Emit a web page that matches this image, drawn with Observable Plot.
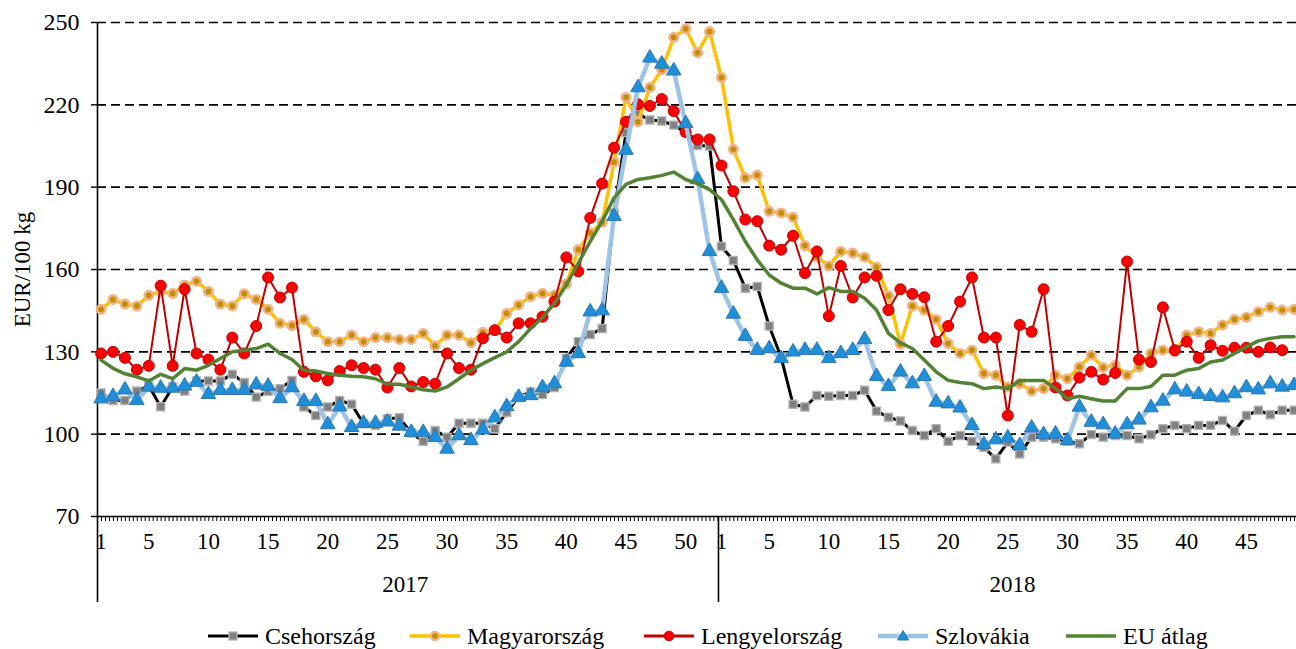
<!DOCTYPE html>
<html><head><meta charset="utf-8">
<script src="https://cdn.jsdelivr.net/npm/d3@7"></script>
<script src="https://cdn.jsdelivr.net/npm/@observablehq/plot@0.6"></script>
<style>
body{margin:0;background:#fff;font-family:"Liberation Serif","Times New Roman",serif;}
#wrap{position:relative;width:1296px;height:649px;overflow:hidden;}
#legend{position:absolute;left:0;top:624px;width:1296px;height:24px;}
.item{position:absolute;top:0;height:24px;display:flex;align-items:center;font-size:24px;color:#000;white-space:nowrap;}
.item svg{margin-right:7px;}
</style></head><body><div id="wrap"><div id="chart"></div><div id="legend"></div></div>
<script>
const years = ["2017", "2018"];
const weeks2017 = [1,2,3,4,5,6,7,8,9,10,11,12,13,14,15,16,17,18,19,20,21,22,23,24,25,26,27,28,29,30,31,32,33,34,35,36,37,38,39,40,41,42,43,44,45,46,47,48,49,50,51,52];
const weeks2018 = [1,2,3,4,5,6,7,8,9,10,11,12,13,14,15,16,17,18,19,20,21,22,23,24,25,26,27,28,29,30,31,32,33,34,35,36,37,38,39,40,41,42,43,44,45,46,47,48,49];
const labelWeeks2017 = [1,5,10,15,20,25,30,35,40,45,50];
const labelWeeks2018 = [1,5,10,15,20,25,30,35,40,45];
const yTicks = [70,100,130,160,190,220,250];

const cseh2017 = [115,112.3,112.3,115.7,117.6,110,117.2,115.7,119.4,119.4,119.4,121.8,118.8,113.5,115.6,116.6,119.6,109.9,106.8,109.9,112.3,110.9,103.8,103.2,105.6,106,100.4,97.4,101.3,98.9,104,104,104,102,108,113.5,115.4,114.4,117,127.6,133.7,136.3,138.5,180.6,209.9,216.6,214.5,214.1,212.6,209.9,205.2,205];
const cseh2018 = [168.4,163.3,153.2,153.8,139.4,128,110.9,109.9,114.1,113.8,114.1,114.1,116,108.4,106.2,104.8,101.3,99.5,102,97.4,99.5,97.4,95.2,91,97.1,92.8,98.9,98.9,98.3,97.4,96.5,99.9,98.9,99.5,99.5,98.3,99.8,102,103.2,102,103.2,103.2,105,101.1,106.8,108.7,107.1,108.7,108.7];
const magyar2017 = [145.5,149.1,147.4,146.7,150.6,152,151.3,154.3,155.7,152,147.4,146.7,151.2,149.1,145.5,140.4,139.6,141.8,137.3,133.7,133.7,136.1,133.7,135.2,135.2,134.5,134.5,136.7,132.2,136.1,136.1,133.3,137.1,137.9,144,147.1,150.1,151.3,150.7,154.8,167.2,173.3,177.2,199.1,222.7,213.8,226.3,232.8,244.6,247.7,239,246.7];
const magyar2018 = [230,203.8,193.4,194.4,181.2,180.6,179,168.7,164.5,161.3,166.6,166,164.5,160.9,150.4,132.8,146.7,145.2,141.8,133,129.4,130.6,122.1,121.5,117.2,118.4,115.7,116.6,121.5,120.2,124.5,128.8,124.3,125.1,121.5,124.5,129.4,130.6,130,136.1,137.3,136.7,139.8,141.8,142.6,144.6,146.2,145.2,145.5];
const lengyel2017 = [129.4,130,127.8,123.5,124.9,154.1,124.9,152.8,129.4,127.2,123.5,135.2,129.4,139.4,157.1,149.8,153.4,122.7,121.1,119.6,123,125.1,124.1,123.5,117,124.1,117.4,119,118.4,129.4,124.1,123.5,134.9,137.9,135.2,140.4,140.4,142.8,148.3,164.4,159.3,178.8,191.3,204.4,213.8,220.2,219.6,222.1,217.7,210.1,207.4,207.4];
const lengyel2018 = [197.9,188.5,178.2,177.6,168.7,167.2,172.3,158.7,166.6,143,161.3,149.8,157.1,157.7,145.2,152.8,151.1,149.9,133.7,139.4,148.3,157.1,135.2,135.2,106.8,139.8,137.3,152.8,117,114.1,120.6,122.7,119.9,122.3,162.9,127.2,126.3,146.2,130.6,133.7,127.8,132.4,130.4,131.5,131.5,130,131.6,130.6];
const szlovakia2017 = [112.9,113.8,116.2,112.3,117.2,116.8,116.8,117.6,119,114.5,116,116,116,118,117.5,113,117,112,112,103.5,110,102.5,104,104,104.5,103,100.7,100.7,98.9,94.6,99.5,97.7,101.6,106,110.1,113.5,114.1,117,118.4,126.3,129.4,144.6,145,179.4,203.5,226.3,237.1,234.9,232.4,213.2,192.8,166.6];
const szlovakia2018 = [153.2,143.8,135.7,130.6,131.2,127.6,130,130.6,130.6,127.6,129.4,130.6,134.5,121.1,117.4,122.7,118.4,121.1,111.7,111.1,109.6,103.2,96.2,98,98.7,95.9,102.3,99.9,100.1,97.7,109.9,104.4,103.5,100.1,103.5,105.2,109.7,112.1,116.2,115.4,114.5,113.8,113.3,114.8,117,116.2,118.4,117.2,117.8];
const eu2017 = [127,124,122,120.9,119.4,121.8,120.2,123.9,123.3,125.1,127.6,130,130.6,131.2,132.8,129.4,127.2,123.3,123,122.1,121.5,121.1,120.9,120.2,118.2,118.2,117.2,116.2,115.7,117.2,120.2,123.3,125.7,127.9,130,133.7,138.5,142.5,147.7,154.4,162.3,170.2,177.6,186.1,191,192.8,193.4,194.3,195.5,192.8,191.3,189.1];
const eu2018 = [185.5,178.2,170.2,163.5,158,155,153.2,153.2,151.1,153.4,152,152,149.5,145.2,136.7,133.3,131.2,127,122.7,119.6,118.8,118.4,116.6,117.2,116.6,119.6,119.6,119.6,116.6,112.9,113.8,112.9,112.1,112.1,116.6,116.6,117.4,121.5,121.5,123.3,123.9,126.3,127,129.4,131.8,134,134.9,135.5,135.5];

const n17 = weeks2017.length;
const pos = (yearIdx, w) => yearIdx === 0 ? w : n17 + w;
function rows(a17, a18) {
  const out = [];
  a17.forEach((v, k) => { if (v != null) out.push({i: pos(0, weeks2017[k]), v}); });
  a18.forEach((v, k) => { if (v != null) out.push({i: pos(1, weeks2018[k]), v}); });
  return out;
}
const series = [
  {name: "Csehország", data: rows(cseh2017, cseh2018), line: "#000000", lw: 3, sym: "square", r: 4.6, fill: "#808080", mstroke: "#b4b4b4", msw: 1.3},
  {name: "Magyarország", data: rows(magyar2017, magyar2018), line: "#FFC000", lw: 3.5, sym: "circle", r: 4.2, fill: "#BF9000", mstroke: "#F4B183", msw: 2.6},
  {name: "Lengyelország", data: rows(lengyel2017, lengyel2018), line: "#C00000", lw: 2, sym: "circle", r: 5.5, fill: "#FF0000", mstroke: "#C00000", msw: 1},
  {name: "Szlovákia", data: rows(szlovakia2017, szlovakia2018), line: "#9DC3E6", lw: 4.5, sym: "triangle", r: 5.4, fill: "#1F8FD8", mstroke: "#2E75B6", msw: 1},
  {name: "EU átlag", data: rows(eu2017, eu2018), line: "#548235", lw: 3.5, sym: null}
];

const nAll = n17 + weeks2018.length;
const xDomain = [0.7, nAll + 0.2];
const minorTicks = d3.range(xDomain[0], xDomain[1], 1/3);
const labelTicks = labelWeeks2017.map(w => pos(0, w)).concat(labelWeeks2018.map(w => pos(1, w)));
const weekOf = i => i <= n17 ? String(i) : String(i - n17);
const yearRows = [
  {year: years[0], c: (pos(0, weeks2017[0]) + pos(0, weeks2017[n17 - 1])) / 2},
  {year: years[1], c: (pos(1, weeks2018[0]) + pos(1, weeks2018[weeks2018.length - 1])) / 2 + 0.4}
];
const sep = n17 + 0.75;

const marks = [
  Plot.gridY({ticks: yTicks.slice(1), stroke: "#000", strokeOpacity: 1, strokeWidth: 1.6, strokeDasharray: "9,5"}),
  Plot.axisY({ticks: yTicks, tickSize: 6, tickPadding: 12, fontSize: 24, strokeWidth: 1.4, label: null}),
  Plot.axisX({ticks: minorTicks, tickSize: 5, tickFormat: () => "", strokeWidth: 1, label: null}),
  Plot.axisX({ticks: labelTicks, tickSize: 0, tickPadding: 16, tickFormat: weekOf, fontSize: 23, label: null}),
  Plot.axisX({ticks: [xDomain[0], sep], tickSize: 86, tickFormat: () => "", strokeWidth: 1.6, label: null}),
  Plot.ruleY([70], {stroke: "#000", strokeWidth: 1.6}),
  Plot.ruleX([xDomain[0]], {stroke: "#000", strokeWidth: 1.6}),
  Plot.text(yearRows, {x: "c", text: "year", frameAnchor: "bottom", dy: 75, fontSize: 23}),
  Plot.text(["EUR/100 kg"], {frameAnchor: "left", textAnchor: "middle", dx: -75, rotate: -90, fontSize: 23})
];
for (const s of series) {
  marks.push(Plot.line(s.data, {x: "i", y: "v", stroke: s.line, strokeWidth: s.lw, strokeLinejoin: "round"}));
  if (s.sym) marks.push(Plot.dot(s.data, {x: "i", y: "v", symbol: s.sym, r: s.r, fill: s.fill, stroke: s.mstroke, strokeWidth: s.msw}));
}

const chart = Plot.plot({
  width: 1296, height: 615,
  marginTop: 22, marginBottom: 99, marginLeft: 97, marginRight: 0,
  style: {fontFamily: "'Liberation Serif','Times New Roman',serif", fontSize: "22px", color: "#000", background: "transparent", overflow: "visible"},
  x: {domain: xDomain, axis: null},
  y: {domain: [70, 250], axis: null},
  marks
});
document.getElementById("chart").appendChild(chart);

// legend
const legendX = [208, 410, 644, 878, 1066];
const legend = document.getElementById("legend");
const symPath = {
  square: '<rect x="21" y="8" width="8" height="8" fill="#808080" stroke="#b4b4b4" stroke-width="1.3"/>',
  circleM: '<circle cx="25" cy="12" r="4" fill="#BF9000" stroke="#F4B183" stroke-width="2.4"/>',
  circleL: '<circle cx="25" cy="12" r="4.8" fill="#FF0000" stroke="#C00000" stroke-width="1"/>',
  triangle: '<path d="M25,6.5 L30.5,16 L19.5,16 Z" fill="#1F8FD8" stroke="#2E75B6" stroke-width="1"/>'
};
const legSyms = [symPath.square, symPath.circleM, symPath.circleL, symPath.triangle, ""];
series.forEach((s, k) => {
  const div = document.createElement("div");
  div.className = "item";
  div.style.left = legendX[k] + "px";
  div.innerHTML = `<svg width="50" height="24"><line x1="0" y1="12" x2="50" y2="12" stroke="${s.line}" stroke-width="${Math.max(s.lw, 3)}"/>${legSyms[k]}</svg><span>${s.name}</span>`;
  legend.appendChild(div);
});
</script></body></html>
